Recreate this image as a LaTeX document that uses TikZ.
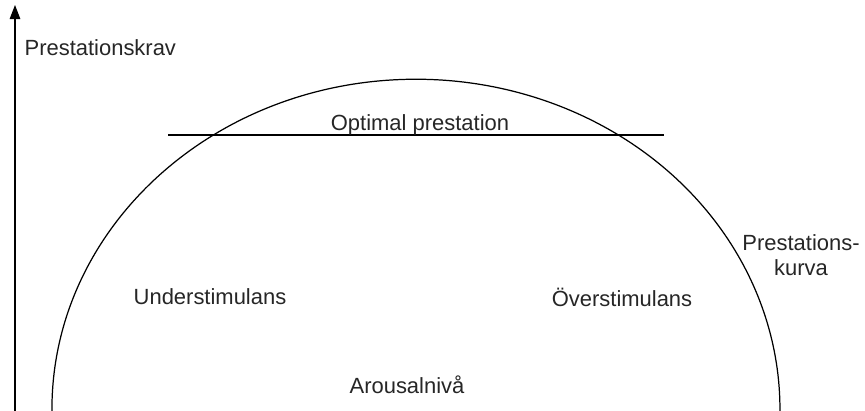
\documentclass[tikz,border=0pt]{standalone}
\usepackage{fontspec}
\setmainfont{Liberation Sans}
\usetikzlibrary{arrows.meta}

\tikzset{
    lbl/.style={font=\fontsize{12.5}{14.5}\selectfont, text=black!85, inner sep=1pt},
    curve/.style={line width=0.7pt}
}

\begin{document}
\begin{tikzpicture}
    \useasboundingbox (0, 0) rectangle (17.3, 8.2);

    % The axis for the demand
    \coordinate (axisbot) at (0.3, -0.1);
    \coordinate (axistop) at (0.3, 8.1);
    \draw[curve, -{Triangle[width=6pt, length=8pt]}] (axisbot) -- (axistop);
    \node[lbl, anchor=west] (krav) at (0.45, 7.25) {Prestationskrav};

    % The performance curve
    \draw[curve] (1.04, -0.1) arc[start angle=181, end angle=-1, x radius=7.28, y radius=6.6];
    \node[lbl, align=center] (kurva) at (16.02, 3.1) {Prestations-\\kurva};

    % Optimal level
    \coordinate (optleft) at (3.36, 5.5);
    \coordinate (optright) at (13.28, 5.5);
    \draw[curve] (optleft) -- (optright);
    \node[lbl] (optimal) at (8.4, 5.7) {Optimal prestation};

    % The two sides and the x-axis label
    \node[lbl] (under) at (4.2, 2.26) {Understimulans};
    \node[lbl] (over) at (12.44, 2.26) {Överstimulans};
    \node[lbl] (arousal) at (8.14, 0.5) {Arousalnivå};
\end{tikzpicture}
\end{document}
